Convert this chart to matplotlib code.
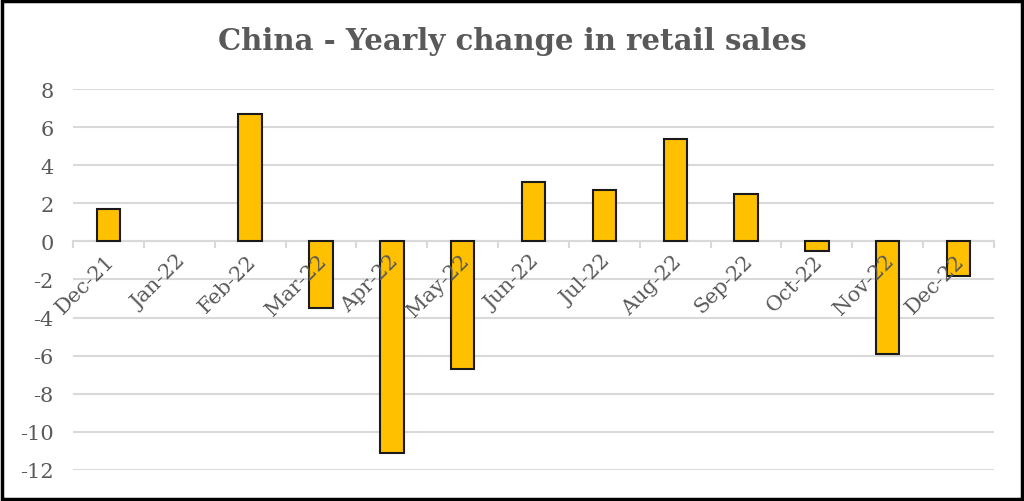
import matplotlib
matplotlib.use("Agg")
import matplotlib.pyplot as plt
from matplotlib.patches import Rectangle
import numpy as np

# Data (Jan-22 has no bar)
months = ["Dec-21", "Jan-22", "Feb-22", "Mar-22", "Apr-22", "May-22", "Jun-22",
          "Jul-22", "Aug-22", "Sep-22", "Oct-22", "Nov-22", "Dec-22"]
yoy_change = [1.7, np.nan, 6.7, -3.5, -11.1, -6.7, 3.1, 2.7, 5.4, 2.5, -0.5, -5.9, -1.8]
y_ticks = [8, 6, 4, 2, 0, -2, -4, -6, -8, -10, -12]

TEXT_GRAY = '#595959'
GRID_GRAY = '#d9d9d9'
BAR_COLOR = '#FFC000'

plt.rcParams['font.family'] = 'DejaVu Serif'

fig = plt.figure(figsize=(10.24, 5.02), dpi=100)
ax = fig.add_axes([0.0713, 0.0618, 0.8994, 0.7589])

x = np.arange(len(months))
ax.bar(x, yoy_change, width=0.33, color=BAR_COLOR, edgecolor='#1a1a1a',
       linewidth=1.5, zorder=3)

ax.set_xlim(-0.5, len(months) - 0.5)
ax.set_ylim(min(y_ticks), max(y_ticks))
ax.set_yticks(y_ticks)
ax.set_yticklabels([str(v) for v in y_ticks])
ax.grid(axis='y', color=GRID_GRAY, linewidth=1.5, zorder=0)
ax.tick_params(axis='y', length=0, labelsize=15, labelcolor=TEXT_GRAY, pad=14)

for side in ['top', 'right', 'bottom', 'left']:
    ax.spines[side].set_visible(False)

# category axis drawn at zero, with tick marks between categories
ax.axhline(0, color=GRID_GRAY, linewidth=1.5, zorder=2)
ax.set_xticks([])
for b in np.arange(-0.5, len(months), 1.0):
    ax.plot([b, b], [0, -0.28], color=GRID_GRAY, linewidth=1.5, zorder=2,
            clip_on=False)

for xi, label in zip(x, months):
    ax.text(xi - 0.05, -0.5, label, rotation=45, ha='right', va='top',
            rotation_mode='anchor', fontsize=15, color=TEXT_GRAY, zorder=4)

fig.text(0.5, 0.918, 'China - Yearly change in retail sales', ha='center',
         va='center', fontsize=21, fontweight='bold', color=TEXT_GRAY)

# black frame around the whole picture
fig.patches.append(Rectangle((0.0015, 0.003), 0.997, 0.994, transform=fig.transFigure,
                             fill=False, edgecolor='black', linewidth=2.5))

fig.savefig('out.png', dpi=100)
